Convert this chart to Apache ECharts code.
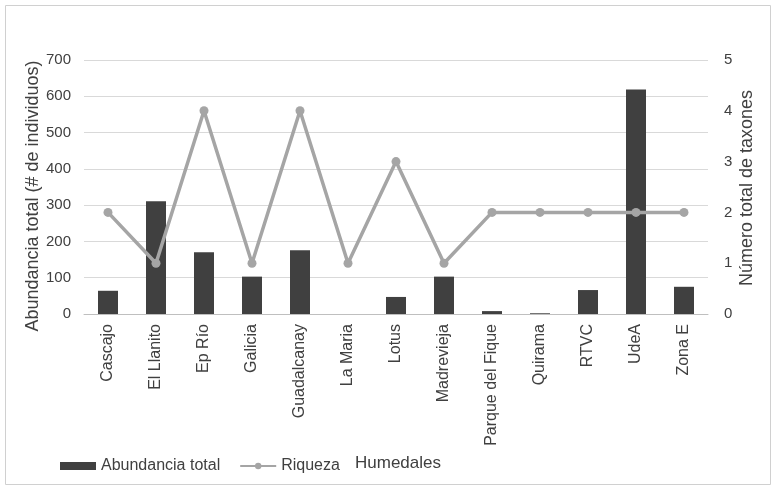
<!DOCTYPE html>
<html>
<head>
<meta charset="utf-8">
<script src="https://cdn.jsdelivr.net/npm/echarts@6/dist/echarts.min.js"></script>
<style>
html,body{margin:0;padding:0;background:#fff;}
#chart{width:777px;height:488px;}
</style>
</head>
<body>
<div id="chart"></div>
<script>
// Humedales: total abundance (bars, left axis) and taxon richness (line, right axis)
const categories = ['Cascajo', 'El Llanito', 'Ep Río', 'Galicia', 'Guadalcanay', 'La Maria', 'Lotus', 'Madrevieja', 'Parque del Fique', 'Quirama', 'RTVC', 'UdeA', 'Zona E'];
const abundancia = [64, 311, 170, 103, 176, 0, 47, 103, 8, 2, 66, 619, 75];
const riqueza = [2, 1, 4, 1, 4, 1, 3, 1, 2, 2, 2, 2, 2];
const leftTicks = [0, 100, 200, 300, 400, 500, 600, 700];
const rightTicks = [0, 1, 2, 3, 4, 5];

const font = '"Liberation Sans", Arial, sans-serif';
const chart = echarts.init(document.getElementById('chart'), null, { renderer: 'canvas' });

// vertical axis titles, written bottom-to-top
function axisTitle(text, x, y) {
  return {
    type: 'text', x: x, y: y, rotation: Math.PI / 2,
    style: { text: text, font: '18px ' + font, fill: '#404040', align: 'center', verticalAlign: 'middle' }
  };
}

chart.setOption({
  backgroundColor: '#fff',
  animation: false,
  textStyle: { fontFamily: font },
  graphic: [
    { type: 'rect', shape: { x: 5.5, y: 5.5, width: 765, height: 479 }, style: { fill: 'none', stroke: '#d0d0d0', lineWidth: 1 } },
    { type: 'text', left: 355, top: 455, style: { text: 'Humedales', font: '17px ' + font, fill: '#404040' } },
    axisTitle('Abundancia total (# de individuos)', 33, 196),
    axisTitle('Número total de taxones', 747, 188)
  ],
  grid: { left: 84, right: 69, top: 60, bottom: 174 },
  legend: {
    left: 55, top: 453, itemGap: 19, itemWidth: 36, itemHeight: 8,
    textStyle: { fontSize: 16, color: '#404040' },
    data: [
      { name: 'Abundancia total', icon: 'rect' },
      { name: 'Riqueza' }
    ]
  },
  xAxis: {
    type: 'category',
    data: categories,
    axisLine: { lineStyle: { color: '#bfbfbf' } },
    axisTick: { show: false },
    axisLabel: { rotate: 90, fontSize: 16, color: '#404040', margin: 10, interval: 0 }
  },
  yAxis: [
    {
      type: 'value', min: 0, max: 700, interval: 100,
      axisLabel: { fontSize: 15, color: '#404040', margin: 13, formatter: v => leftTicks.includes(v) ? String(v) : '' },
      splitLine: { lineStyle: { color: '#d9d9d9' } },
      axisLine: { show: false }, axisTick: { show: false }
    },
    {
      type: 'value', min: 0, max: 5, interval: 1,
      axisLabel: { fontSize: 15, color: '#404040', margin: 16, formatter: v => rightTicks.includes(v) ? String(v) : '' },
      splitLine: { show: false },
      axisLine: { show: false }, axisTick: { show: false }
    }
  ],
  series: [
    {
      name: 'Abundancia total', type: 'bar', yAxisIndex: 0,
      data: abundancia, barWidth: 20,
      itemStyle: { color: '#404040' }
    },
    {
      name: 'Riqueza', type: 'line', yAxisIndex: 1,
      data: riqueza,
      symbol: 'circle', symbolSize: 9,
      lineStyle: { color: '#a5a5a5', width: 3.5 },
      itemStyle: { color: '#a5a5a5' }
    }
  ]
});
</script>
</body>
</html>
